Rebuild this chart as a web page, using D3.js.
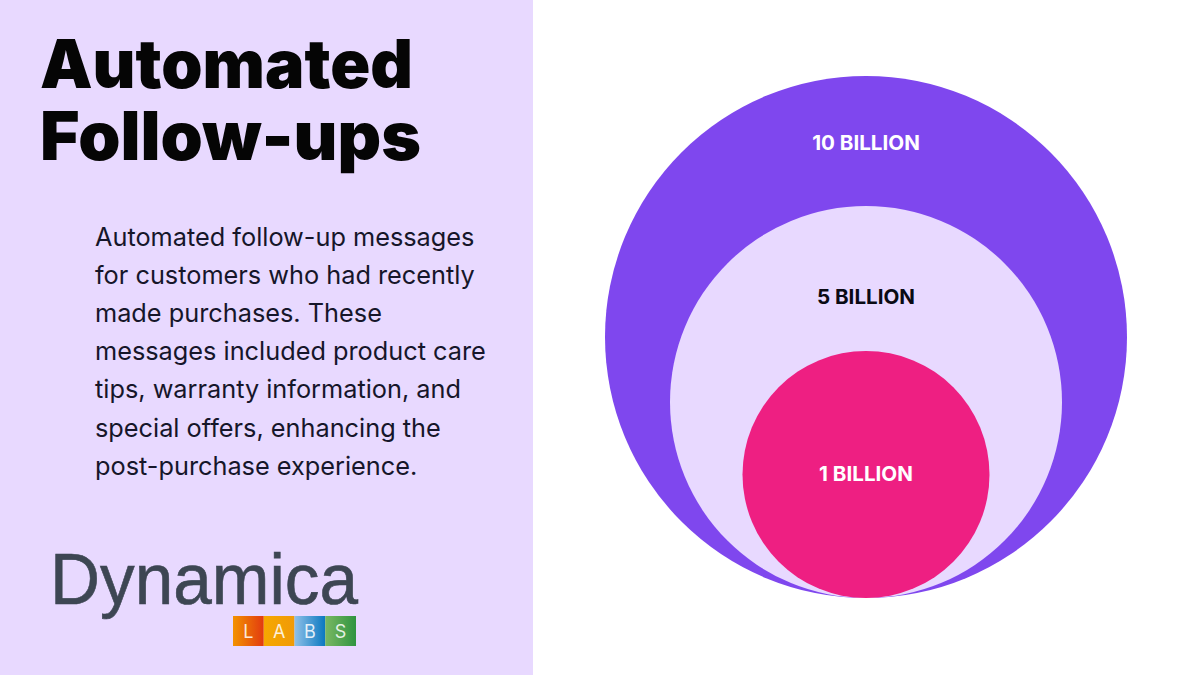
<!DOCTYPE html>
<html>
<head>
<meta charset="utf-8">
<script src="https://cdn.jsdelivr.net/npm/d3@7"></script>
<style>
html, body { margin: 0; padding: 0; background: #fff; }
svg { display: block; }
</style>
</head>
<body>
<svg id="chart" width="1200" height="675"></svg>
<script>
// chart data
var circleLabels = ["10 BILLION", "5 BILLION", "1 BILLION"];
var circleValues = [10, 5, 1];
var circleColors = ["#7f47ee", "#e8d9ff", "#ee1f82"];
var labelColors = ["#ffffff", "#0a0a14", "#ffffff"];
var labelY = [150, 304, 481];

var titleLines = ["Automated", "Follow-ups"];
var bodyLines = [
    "Automated follow-up messages",
    "for customers who had recently",
    "made purchases. These",
    "messages included product care",
    "tips, warranty information, and",
    "special offers, enhancing the",
    "post-purchase experience."
];
var logoLetters = ["L", "A", "B", "S"];
var logoFrom = ["#f39200", "#f6a800", "#8fc0e8", "#7ab863"];
var logoTo = ["#e23a10", "#f09a08", "#0a78c0", "#2f9440"];

var svg = d3.select("#chart");
var defs = svg.append("defs");

// left panel
svg.append("rect").attr("width", 533).attr("height", 675).attr("fill", "#e8d9ff");

// title
svg.append("g").selectAll("text").data(titleLines).join("text")
    .attr("x", 40)
    .attr("y", function (d, i) { return 88 + i * 72; })
    .attr("font-family", "Inter")
    .attr("font-weight", 900)
    .attr("font-size", 67)
    .attr("fill", "#050505")
    .attr("textLength", function (d, i) { return i === 0 ? 373 : 381; })
    .attr("lengthAdjust", "spacingAndGlyphs")
    .text(function (d) { return d; });

// body copy
svg.append("g").selectAll("text").data(bodyLines).join("text")
    .attr("x", 95)
    .attr("y", function (d, i) { return 246 + i * 38.1; })
    .attr("font-family", "Inter")
    .attr("font-size", 25.3)
    .attr("fill", "#16162a")
    .text(function (d) { return d; });

// logo
svg.append("text")
    .attr("x", 50).attr("y", 604)
    .attr("font-family", "Liberation Sans")
    .attr("font-size", 72)
    .attr("fill", "#3d4653")
    .attr("stroke", "#3d4653")
    .attr("stroke-width", 0.6)
    .attr("textLength", 308)
    .attr("lengthAdjust", "spacingAndGlyphs")
    .text("Dynamica");

var logoX = d3.scaleBand().domain(logoLetters).range([233, 356]);
logoLetters.forEach(function (d, i) {
    var g = defs.append("linearGradient").attr("id", "logo-" + i);
    g.append("stop").attr("offset", "0%").attr("stop-color", logoFrom[i]);
    g.append("stop").attr("offset", "100%").attr("stop-color", logoTo[i]);
});
svg.append("g").selectAll("rect").data(logoLetters).join("rect")
    .attr("x", function (d) { return logoX(d); })
    .attr("y", 616)
    .attr("width", logoX.bandwidth())
    .attr("height", 30)
    .attr("fill", function (d, i) { return "url(#logo-" + i + ")"; });
svg.append("g").selectAll("text").data(logoLetters).join("text")
    .attr("x", function (d) { return logoX(d) + logoX.bandwidth() / 2; })
    .attr("y", 638)
    .attr("text-anchor", "middle")
    .attr("font-family", "Inter")
    .attr("font-size", 18)
    .attr("fill", "#ffffff")
    .attr("fill-opacity", 0.85)
    .text(function (d) { return d; });

// nested circles, all sitting on the same bottom point
var radius = d3.scaleLinear().domain([1, 5, 10]).range([123.5, 196, 261]);
var centerX = 866;
var bottomY = 598;

svg.append("g").selectAll("circle").data(circleValues).join("circle")
    .attr("cx", centerX)
    .attr("cy", function (d) { return bottomY - radius(d); })
    .attr("r", function (d) { return radius(d); })
    .attr("fill", function (d, i) { return circleColors[i]; });

svg.append("g").selectAll("text").data(circleLabels).join("text")
    .attr("x", centerX)
    .attr("y", function (d, i) { return labelY[i]; })
    .attr("text-anchor", "middle")
    .attr("font-family", "Inter")
    .attr("font-weight", 700)
    .attr("font-size", 20.6)
    .attr("fill", function (d, i) { return labelColors[i]; })
    .text(function (d) { return d; });
</script>
</body>
</html>
